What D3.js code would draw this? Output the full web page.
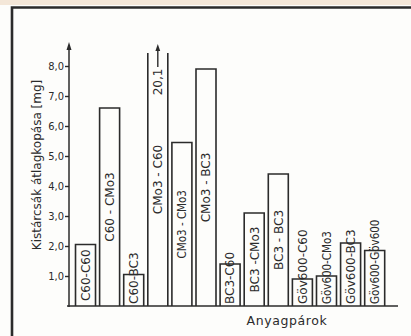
<!DOCTYPE html>
<html>
<head>
<meta charset="utf-8">
<script src="https://cdn.jsdelivr.net/npm/d3@7"></script>
<style>
  html, body { margin: 0; padding: 0; background: #fdfdfb; }
  svg { display: block; }
  text { fill: #2b2b2b; font-family: "DejaVu Sans", sans-serif; }
</style>
</head>
<body>
<svg id="chart" width="411" height="336"></svg>
<script>
// Material pairs and their mean wear of the small discs, mg
const pairs = [
  "C60-C60", "C60 - CMo3", "C60-BC3", "CMo3 - C60", "CMo3 - CMo3", "CMo3 - BC3",
  "BC3-C60", "BC3 -CMo3", "BC3 - BC3", "Göv600-C60", "Göv600-CMo3", "Göv600-BC3", "Göv600-Göv600"
];
const wear = [2.05, 6.6, 1.05, 20.1, 5.45, 7.9, 1.4, 3.1, 4.4, 0.9, 1.0, 2.1, 1.85];
const yTicks = [1, 2, 3, 4, 5, 6, 7, 8];
const yTitle = "Kistárcsák átlagkopása [mg]";
const xTitle = "Anyagpárok";

const ink = "#2b2b2b";
const svg = d3.select("#chart");

// slight tint along the top edge of the sheet
svg.append("rect").attr("x", 0).attr("y", 0).attr("width", 411).attr("height", 5)
  .attr("fill", "#f4e7d8");

// outer frame (left and top edges)
svg.append("path")
  .attr("d", "M12,336 V7.5 H411")
  .attr("fill", "none").attr("stroke", ink).attr("stroke-width", 2.6);

const y = d3.scaleLinear().domain([0, 8]).range([306, 66]);
const x = d3.scaleBand().domain(pairs).range([73.1, 387.1])
  .paddingInner(0.17).paddingOuter(0.1);

const yMax = y.invert(53); // top of the drawable bar area

// y axis with ticks and labels
const yAxis = svg.append("g").attr("transform", "translate(69,0)")
  .call(d3.axisLeft(y).tickValues(yTicks).tickSize(4).tickPadding(1)
    .tickFormat(d => d.toFixed(1).replace(".", ",")));
yAxis.select(".domain").remove();
yAxis.selectAll(".tick line").attr("stroke", ink).attr("stroke-width", 1.4);
yAxis.selectAll(".tick text")
  .style("font-family", "'DejaVu Sans Condensed', 'DejaVu Sans', sans-serif")
  .style("font-size", "11px").attr("fill", ink).attr("dy", "0.36em");

// axis line with arrowhead
svg.append("line").attr("x1", 69).attr("x2", 69).attr("y1", 307).attr("y2", 47)
  .attr("stroke", ink).attr("stroke-width", 1.5);
svg.append("path").attr("d", "M69,42 L66.5,50 L71.5,50 Z").attr("fill", ink);

// baseline
svg.append("line").attr("x1", 67).attr("x2", 398).attr("y1", 306).attr("y2", 306)
  .attr("stroke", ink).attr("stroke-width", 1.5);

// bars
const bars = svg.append("g");
pairs.forEach((p, i) => {
  const v = wear[i];
  const x0 = x(p), x1 = x(p) + x.bandwidth();
  const clipped = v > yMax;
  const top = clipped ? y(yMax) : y(v);
  const d = clipped
    ? `M${x0},${y(0)} V${top} M${x1},${y(0)} V${top}`
    : `M${x0},${y(0)} V${top} H${x1} V${y(0)}`;
  bars.append("path").attr("d", d).attr("fill", "none")
    .attr("stroke", ink).attr("stroke-width", 1.6);
});

// rotated labels inside the bars
const labels = svg.append("g");
pairs.forEach((p, i) => {
  const v = Math.min(wear[i], yMax);
  const cx = x(p) + x.bandwidth() / 2;
  const t = labels.append("text").text(p)
    .style("font-size", "12px")
    .attr("text-anchor", "middle").attr("dy", "0.36em");
  let len = t.node().getComputedTextLength();
  if (len > 78) {
    len = len * 0.86;
    t.attr("textLength", len).attr("lengthAdjust", "spacingAndGlyphs");
  }
  const barMid = (y(0) + y(v)) / 2;
  const cy = Math.min(barMid, y(0) - 2 - len / 2);
  t.attr("transform", `translate(${cx},${cy}) rotate(-90)`);
});

// off-scale value of the CMo3 - C60 pair
const big = pairs[wear.indexOf(d3.max(wear))];
const bx = x(big) + x.bandwidth() / 2;
svg.append("text").text(d3.format(".1f")(d3.max(wear)).replace(".", ","))
  .style("font-size", "12px").attr("text-anchor", "middle").attr("dy", "0.36em")
  .attr("transform", `translate(${bx},82) rotate(-90)`);
svg.append("line").attr("x1", bx).attr("x2", bx).attr("y1", 67).attr("y2", 50)
  .attr("stroke", ink).attr("stroke-width", 1.4);
svg.append("path").attr("d", `M${bx},44 L${bx - 2.4},51 L${bx + 2.4},51 Z`).attr("fill", ink);

// axis titles
svg.append("text").text(yTitle)
  .style("font-size", "12px").attr("text-anchor", "middle")
  .attr("transform", "translate(41,165) rotate(-90)");
svg.append("text").text(xTitle)
  .style("font-size", "12.5px").style("letter-spacing", "0.6px")
  .attr("text-anchor", "middle").attr("x", 287).attr("y", 325);
</script>
</body>
</html>
